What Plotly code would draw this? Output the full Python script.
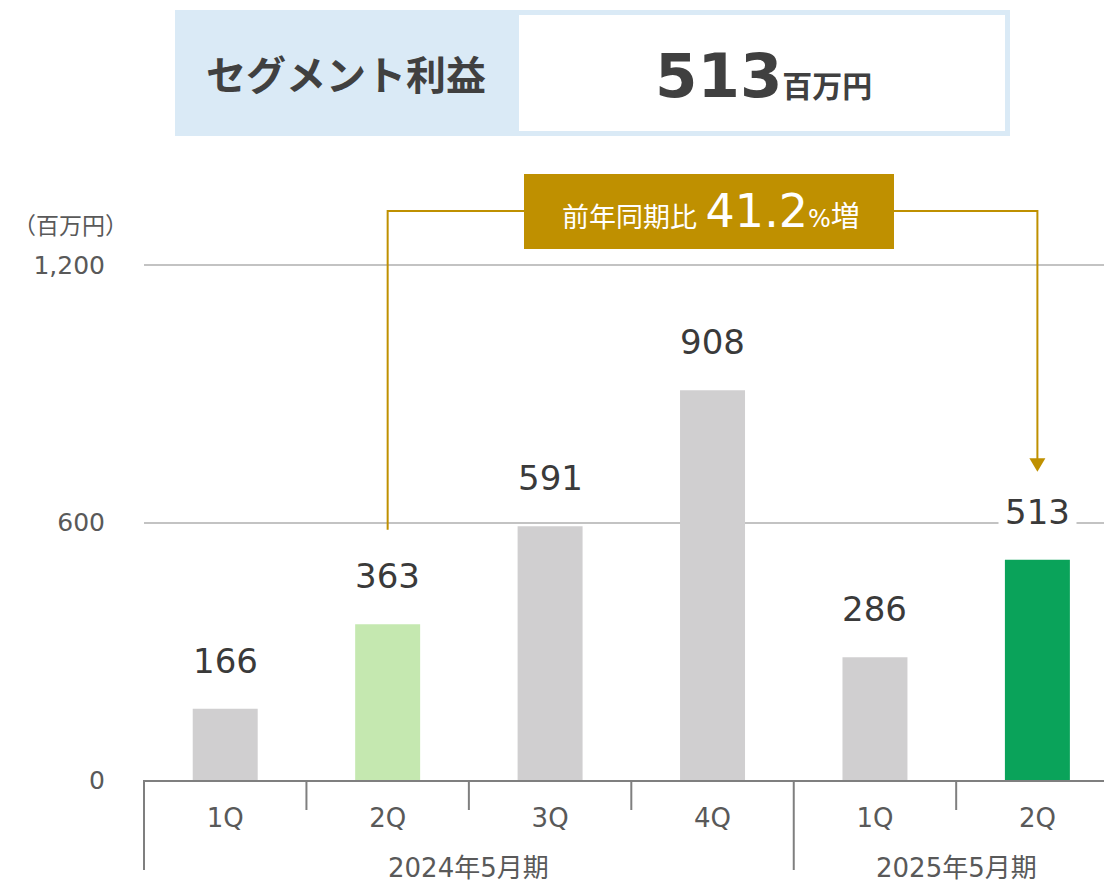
import plotly.graph_objects as go

# data
fiscal_years = ["2024年5月期", "2025年5月期"]
quarters = ["1Q", "2Q", "3Q", "4Q", "1Q", "2Q"]
quarters_per_year = [4, 2]
profit = [166, 363, 591, 908, 286, 513]
bar_colors = ["#d0cfd0", "#c5e8b0", "#d0cfd0", "#d0cfd0", "#d0cfd0", "#0aa35a"]
y_ticks = [0, 600, 1200]
y_ticktext = ["0", "600", "1,200"]
headline_value = "513"
yoy_growth = "41.2"

FONT = "DejaVu Sans, Noto Sans CJK JP, sans-serif"
GOLD = "#bf9000"
AXIS_GRAY = "#7f7f7f"

# plot area in pixels (for layout helpers)
W, H = 1104, 885
PL, PR, PT, PB = 144, 1104, 150, 780
X_RANGE = [-0.5, 5.41]
Y_TOP = (PB - PT) / (515 / 1200)


def px(x):
    return (x - PL) / (PR - PL)


def py(y):
    return (PB - y) / (PB - PT)


def xi(i):
    return (i - X_RANGE[0]) / (X_RANGE[1] - X_RANGE[0])


x_pos = list(range(len(profit)))

fig = go.Figure(
    go.Bar(
        x=x_pos,
        y=profit,
        marker=dict(color=bar_colors, line=dict(width=0)),
        width=0.4,
        hoverinfo="skip",
    )
)

# value labels
for i, v in zip(x_pos, profit):
    fig.add_annotation(
        x=i, y=v, text=str(v), showarrow=False,
        xanchor="center", yanchor="middle", yshift=48,
        font=dict(family=FONT, size=34, color="#3a3a3a"),
        bgcolor="white", borderpad=6,
    )

# boundary ticks and group dividers below the axis
start = 0
group_bounds = [0]
for n in quarters_per_year:
    start += n
    group_bounds.append(start)
for b in range(len(profit) + 1):
    bx = xi(b - 0.5)
    if bx > 1:
        continue
    low = py(870) if b in group_bounds else py(810)
    fig.add_shape(type="line", xref="paper", yref="paper",
                  x0=bx, x1=bx, y0=0, y1=low,
                  line=dict(color=AXIS_GRAY, width=2))
for k, name in enumerate(fiscal_years):
    mid = (group_bounds[k] + group_bounds[k + 1] - 1) / 2
    fig.add_annotation(x=xi(mid), y=py(868), xref="paper", yref="paper",
                       text=name, showarrow=False, xanchor="center", yanchor="middle",
                       font=dict(family=FONT, size=26, color="#595959"))

# header box
fig.add_shape(type="rect", xref="paper", yref="paper",
              x0=px(175), x1=px(1010), y0=py(136), y1=py(10),
              fillcolor="#daeaf6", line=dict(width=0), layer="below")
fig.add_shape(type="rect", xref="paper", yref="paper",
              x0=px(519), x1=px(1005), y0=py(131), y1=py(15),
              fillcolor="white", line=dict(width=0), layer="below")
fig.add_annotation(x=px(346), y=py(76), xref="paper", yref="paper",
                   text="<b>セグメント利益</b>", showarrow=False,
                   xanchor="center", yanchor="middle",
                   font=dict(family=FONT, size=40, color="#404040"))
fig.add_annotation(x=px(763), y=py(76), xref="paper", yref="paper",
                   text=f"<b>{headline_value}<span style='font-size:30px'>百万円</span></b>",
                   showarrow=False, xanchor="center", yanchor="middle",
                   font=dict(family=FONT, size=61, color="#404040"))

# YoY bracket
y_start, y_top, y_end, y_tip = 583, 1326, 748, 718
fig.add_shape(type="path", xref="paper", yref="y",
              path=f"M {xi(1)} {y_start} L {xi(1)} {y_top} L {xi(5)} {y_top} L {xi(5)} {y_end}",
              line=dict(color=GOLD, width=2))
hw = 8 / (PR - PL)
fig.add_shape(type="path", xref="paper", yref="y",
              path=f"M {xi(5) - hw} {y_end + 2} L {xi(5) + hw} {y_end + 2} L {xi(5)} {y_tip} Z",
              fillcolor=GOLD, line=dict(width=0))
fig.add_shape(type="rect", xref="paper", yref="paper",
              x0=px(524), x1=px(894), y0=py(249), y1=py(174),
              fillcolor=GOLD, line=dict(width=0))
fig.add_annotation(x=px(711), y=py(211), xref="paper", yref="paper",
                   text=f"前年同期比 <span style='font-size:46px'>{yoy_growth}</span>"
                        "<span style='font-size:24px'>%</span><span style='font-size:29px'>増</span>",
                   showarrow=False, xanchor="center", yanchor="middle",
                   font=dict(family=FONT, size=27, color="white"))

# unit label
fig.add_annotation(x=px(70), y=py(226), xref="paper", yref="paper",
                   text="（百万円）", showarrow=False,
                   xanchor="center", yanchor="middle",
                   font=dict(family=FONT, size=23, color="#595959"))

fig.update_xaxes(
    range=X_RANGE,
    tickvals=x_pos, ticktext=quarters,
    showline=True, linecolor=AXIS_GRAY, linewidth=2,
    ticks="", ticklabelstandoff=14,
    tickfont=dict(family=FONT, size=26, color="#595959"),
    showgrid=False, zeroline=False,
)
fig.update_yaxes(
    range=[0, Y_TOP],
    tickvals=y_ticks, ticktext=y_ticktext,
    showgrid=True, gridcolor="#c3c3c3", gridwidth=2,
    zeroline=False, showline=False,
    ticks="", ticklabelstandoff=38,
    tickfont=dict(family=FONT, size=25, color="#595959"),
)
fig.update_layout(
    width=W, height=H,
    margin=dict(l=PL, r=W - PR, t=PT, b=H - PB),
    plot_bgcolor="white", paper_bgcolor="white",
    showlegend=False,
    font=dict(family=FONT),
)

fig.write_html(
    "out.html",
    config={"displayModeBar": False},
    post_script="document.body.style.margin='0px';",
)
